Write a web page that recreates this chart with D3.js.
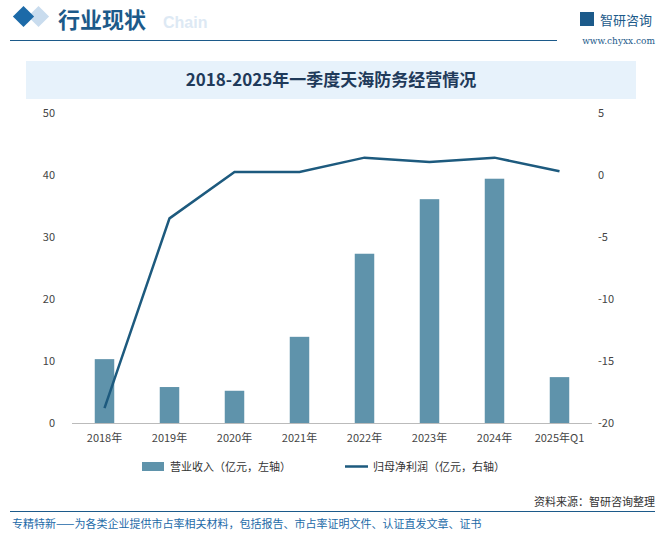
<!DOCTYPE html>
<html><head><meta charset="utf-8">
<script src="https://cdn.jsdelivr.net/npm/d3@7"></script>
<style>body{margin:0;background:#fff;font-family:"Noto Sans CJK SC","Noto Sans",sans-serif}</style>
</head><body><div id="chart"></div>
<script>
const years = ["2018年","2019年","2020年","2021年","2022年","2023年","2024年","2025年Q1"];
const revenue = [10.3, 5.8, 5.2, 13.9, 27.3, 36.1, 39.4, 7.4];
const profit = [-18.8, -3.5, 0.25, 0.25, 1.4, 1.05, 1.4, 0.3];
const leftTicks = [0,10,20,30,40,50];
const rightTicks = [5,0,-5,-10,-15,-20];

const W = 664, H = 539;
const svg = d3.select("#chart").append("svg").attr("width", W).attr("height", H);

// header
svg.append("rect").attr("x",31).attr("y",9).attr("width",15).attr("height",15)
  .attr("transform","rotate(45 38.5 16.5)").attr("fill","#c9dcee");
svg.append("rect").attr("x",16).attr("y",9).attr("width",15).attr("height",15)
  .attr("transform","rotate(45 23.5 16.5)").attr("fill","#1c6aa8");
svg.append("text").attr("x",163).attr("y",28).attr("fill","#dde9f4").attr("font-size",16)
  .attr("font-weight","bold").attr("font-family","Liberation Sans").text("Chain");
svg.append("text").attr("x",58).attr("y",28).attr("fill","#1c5a8a").attr("font-size",22)
  .attr("font-weight","bold").text("行业现状");
svg.append("line").attr("x1",10).attr("x2",557).attr("y1",40.5).attr("y2",40.5).attr("stroke","#1c5a8a");
svg.append("text").attr("x",600).attr("y",25).attr("fill","#1c5a8a").attr("font-size",13).text("智研咨询");
svg.append("rect").attr("x",580).attr("y",12).attr("width",14).attr("height",14).attr("fill","#1c5a8a");
svg.append("text").attr("x",655).attr("y",44).attr("text-anchor","end").attr("fill","#1c5a8a")
  .attr("font-size",9).attr("font-family","DejaVu Serif").text("www.chyxx.com");

// title band
svg.append("rect").attr("x",26).attr("y",61).attr("width",610).attr("height",38).attr("fill","#e7f2fb");
svg.append("text").attr("x",331).attr("y",86).attr("text-anchor","middle").attr("fill","#1f3a5a")
  .attr("font-size",17).attr("font-weight","bold").attr("font-family","Noto Sans CJK SC").text("2018-2025年一季度天海防务经营情况");

const pl = 72, pr = 592, pt = 113, pb = 423;
const x = d3.scaleBand().domain(years).range([pl, pr]).paddingInner(0.7).paddingOuter(0.35);
const xc = d => x(d) + x.bandwidth()/2;
const y = d3.scaleLinear().domain([0,50]).range([pb, pt]);
const y2 = d3.scaleLinear().domain([-20,5]).range([pb, pt]);

svg.append("line").attr("x1",pl).attr("x2",pr).attr("y1",pb+0.5).attr("y2",pb+0.5).attr("stroke","#bbb");

svg.selectAll(".lt").data(leftTicks).enter().append("text")
  .attr("x",55).attr("y",d=>y(d)+4).attr("text-anchor","end").attr("font-size",11).attr("fill","#444").text(d=>d);
svg.selectAll(".rt").data(rightTicks).enter().append("text")
  .attr("x",598).attr("y",d=>y2(d)+4).attr("font-size",11).attr("fill","#444").text(d=>d);
svg.selectAll(".xt").data(years).enter().append("text")
  .attr("x",xc).attr("y",442).attr("text-anchor","middle").attr("font-size",11).attr("fill","#444").text(d=>d);

svg.selectAll(".bar").data(years).enter().append("rect")
  .attr("x",d=>x(d)).attr("width",x.bandwidth())
  .attr("y",(d,i)=>y(revenue[i])).attr("height",(d,i)=>pb-y(revenue[i]))
  .attr("fill","#5f93ab");

const line = d3.line().x((d,i)=>xc(years[i])).y(d=>y2(d));
svg.append("path").datum(profit).attr("d",line).attr("fill","none")
  .attr("stroke","#1d5a7e").attr("stroke-width",2.5);

// legend
svg.append("rect").attr("x",142).attr("y",462).attr("width",22).attr("height",9).attr("fill","#5f93ab");
svg.append("text").attr("x",170).attr("y",471).attr("font-size",11).attr("fill","#333").text("营业收入（亿元，左轴）");
svg.append("line").attr("x1",345).attr("x2",368).attr("y1",466.5).attr("y2",466.5).attr("stroke","#1d5a7e").attr("stroke-width",2.5);
svg.append("text").attr("x",373).attr("y",471).attr("font-size",11).attr("fill","#333").text("归母净利润（亿元，右轴）");

// footer
svg.append("text").attr("x",655).attr("y",506).attr("text-anchor","end").attr("font-size",11).attr("fill","#333").text("资料来源：智研咨询整理");
svg.append("line").attr("x1",10).attr("x2",655).attr("y1",511.5).attr("y2",511.5).attr("stroke","#1c5a8a");
svg.append("text").attr("x",12).attr("y",528).attr("font-size",11).attr("fill","#1c6aa8")
  .text("专精特新——为各类企业提供市占率相关材料，包括报告、市占率证明文件、认证直发文章、证书");
</script></body></html>
